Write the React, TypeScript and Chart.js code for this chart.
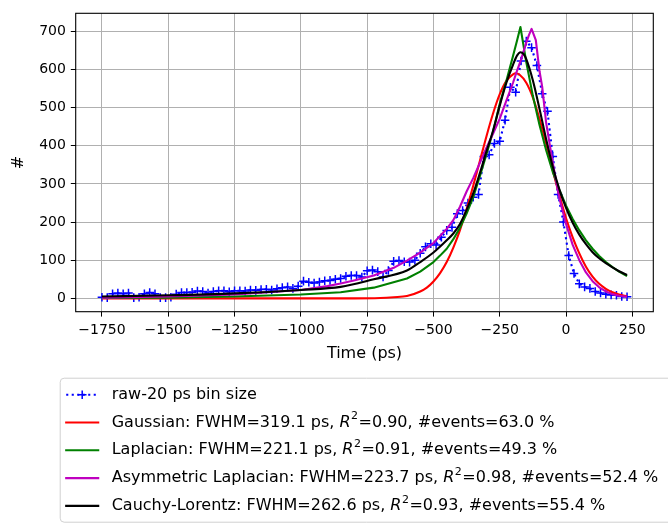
import { useEffect, useRef } from 'react';
import { Chart, registerables } from 'chart.js';

Chart.register(...registerables);

const FONT = "'DejaVu Sans', 'Noto Sans', sans-serif";
Chart.defaults.font.family = FONT;

const X_TICKS = [-1750, -1500, -1250, -1000, -750, -500, -250, 0, 250];
const Y_TICKS = [0, 100, 200, 300, 400, 500, 600, 700];

const RAW_TIME = [
  -1750, -1730, -1710, -1690, -1670, -1650, -1630, -1610, -1590, -1570,
  -1550, -1530, -1510, -1490, -1470, -1450, -1430, -1410, -1390, -1370,
  -1350, -1330, -1310, -1290, -1270, -1250, -1230, -1210, -1190, -1170,
  -1150, -1130, -1110, -1090, -1070, -1050, -1030, -1010, -990, -970,
  -950, -930, -910, -890, -870, -850, -830, -810, -790, -770,
  -750, -730, -710, -690, -670, -650, -630, -610, -590, -570,
  -550, -530, -510, -490, -470, -450, -430, -410, -390, -370,
  -350, -330, -310, -290, -270, -250, -230, -210, -190, -170,
  -150, -130, -110, -90, -70, -50, -30, -10, 10, 30,
  50, 70, 90, 110, 130, 150, 170, 190, 210, 230,
];
const RAW_COUNTS = [
  3, 2, 12, 14, 12, 14, 2, 3, 12, 15,
  12, 2, 2, 3, 11, 15, 15, 16, 19, 18,
  14, 18, 20, 20, 17, 20, 20, 19, 22, 21,
  23, 24, 22, 25, 28, 30, 26, 32, 45, 42,
  40, 43, 46, 47, 50, 52, 58, 60, 60, 56,
  72, 74, 70, 56, 73, 97, 99, 96, 95, 100,
  118, 135, 143, 140, 160, 178, 186, 222, 230, 250,
  265, 272, 372, 376, 406, 412, 467, 553, 540, 622,
  674, 657, 610, 536, 490, 372, 272, 200, 112, 65,
  38, 30, 26, 18, 14, 11, 9, 8, 5, 4,
];

const GAUSS_T = [-1750, -1000, -800, -700, -650, -600, -550, -525, -500, -475, -450, -425, -400, -375, -350, -325, -300, -275, -250, -225, -200, -190, -175, -150, -125, -100, -75, -50, -25, 0, 25, 50, 75, 100, 125, 150, 175, 200, 230];
const GAUSS_Y = [0, 0, 0, 1, 3, 6, 18, 28, 44, 66, 95, 133, 179, 234, 295, 360, 425, 485, 535, 570, 587, 590, 586, 565, 526, 470, 405, 335, 270, 210, 160, 118, 83, 57, 38, 25, 16, 10, 5];

const LAPLACE_T = [-1750, -1500, -1250, -1000, -850, -725, -600, -550, -500, -475, -450, -425, -400, -375, -350, -325, -300, -275, -250, -225, -200, -185, -172, -150, -125, -100, -75, -50, -25, 0, 25, 50, 75, 100, 125, 150, 175, 200, 230];
const LAPLACE_Y = [1, 2, 5, 10, 16, 28, 52, 70, 95, 112, 130, 155, 185, 222, 265, 320, 378, 438, 510, 570, 635, 675, 711, 619, 530, 454, 388, 331, 284, 243, 208, 178, 152, 130, 111, 95, 82, 70, 58];

const ASYM_T = [-1750, -1500, -1250, -1000, -900, -850, -800, -725, -650, -600, -550, -500, -450, -425, -400, -375, -350, -325, -300, -275, -250, -225, -200, -187, -170, -150, -140, -130, -114, -100, -90, -75, -50, -25, 0, 25, 50, 75, 100, 125, 150, 175, 200, 230];
const ASYM_Y = [2, 5, 10, 22, 32, 39, 47, 60, 80, 99, 120, 145, 182, 205, 240, 280, 315, 355, 395, 432, 471, 518, 565, 592, 625, 670, 690, 706, 677, 595, 555, 460, 355, 262, 195, 140, 100, 68, 45, 29, 18, 11, 7, 4];

const CAUCHY_T = [-1750, -1500, -1250, -1000, -850, -725, -600, -550, -500, -450, -425, -400, -375, -350, -325, -300, -275, -250, -225, -200, -185, -172, -160, -150, -125, -100, -75, -50, -25, 0, 25, 50, 75, 100, 125, 150, 175, 200, 230];
const CAUCHY_Y = [5, 8, 13, 22, 30, 50, 73, 95, 120, 152, 170, 195, 232, 275, 328, 385, 440, 505, 565, 612, 636, 645, 640, 627, 571, 496, 417, 345, 285, 237, 198, 167, 142, 121, 105, 92, 81, 71, 61];

const LABELS = [
  'raw-20 ps bin size',
  'Gaussian: FWHM=319.1 ps, R²=0.90, #events=63.0 %',
  'Laplacian: FWHM=221.1 ps, R²=0.91, #events=49.3 %',
  'Asymmetric Laplacian: FWHM=223.7 ps, R²=0.98, #events=52.4 %',
  'Cauchy-Lorentz: FWHM=262.6 ps, R²=0.93, #events=55.4 %',
];

const toPts = (xs: number[], ys: number[]) => xs.map((x, i) => ({ x, y: ys[i] }));

function drawRichLabel(ctx: CanvasRenderingContext2D, text: string, x: number, y: number) {
  const normal = `16px ${FONT}`;
  ctx.fillStyle = '#000';
  ctx.textBaseline = 'middle';
  ctx.textAlign = 'left';
  const idx = text.indexOf('R²');
  if (idx < 0) {
    ctx.font = normal;
    ctx.fillText(text, x, y);
    return;
  }
  const before = text.slice(0, idx);
  const after = text.slice(idx + 2);
  ctx.font = normal;
  ctx.fillText(before, x, y);
  x += ctx.measureText(before).width;
  ctx.font = `italic 16px ${FONT}`;
  ctx.fillText('R', x, y);
  x += ctx.measureText('R').width;
  ctx.font = `11px ${FONT}`;
  ctx.fillText('2', x + 0.5, y - 6);
  x += ctx.measureText('2').width + 1;
  ctx.font = normal;
  ctx.fillText(after, x, y);
}

const framePlugin = {
  id: 'frame',
  afterDraw(chart: any) {
    const { ctx, chartArea: a } = chart;
    ctx.save();
    ctx.strokeStyle = '#000';
    ctx.lineWidth = 1.1;
    ctx.strokeRect(a.left, a.top, a.right - a.left, a.bottom - a.top);
    ctx.restore();
  },
};

const legendPlugin = {
  id: 'mplLegend',
  afterDraw(chart: any) {
    const { ctx, chartArea: a } = chart;
    const left = a.left - 15.5;
    const top = a.bottom + 66.5;
    ctx.save();
    ctx.beginPath();
    ctx.roundRect(left, top, 640, 144, 4);
    ctx.fillStyle = 'rgba(255,255,255,0.8)';
    ctx.fill();
    ctx.strokeStyle = '#d0d0d0';
    ctx.lineWidth = 1;
    ctx.stroke();
    chart.data.datasets.forEach((ds: any, i: number) => {
      const cy = top + 16.5 + i * 27.8;
      const hx0 = left + 6;
      const hx1 = left + 38;
      ctx.save();
      ctx.strokeStyle = ds.borderColor;
      ctx.lineWidth = ds.borderWidth;
      ctx.setLineDash(ds.borderDash || []);
      ctx.lineCap = ds.borderDash ? 'butt' : 'square';
      ctx.beginPath();
      ctx.moveTo(hx0, cy);
      ctx.lineTo(hx1, cy);
      ctx.stroke();
      ctx.setLineDash([]);
      if (ds.pointStyle === 'cross') {
        const cx = (hx0 + hx1) / 2;
        const r = ds.pointRadius;
        ctx.lineWidth = ds.pointBorderWidth;
        ctx.lineCap = 'butt';
        ctx.beginPath();
        ctx.moveTo(cx - r, cy);
        ctx.lineTo(cx + r, cy);
        ctx.moveTo(cx, cy - r);
        ctx.lineTo(cx, cy + r);
        ctx.stroke();
      }
      ctx.restore();
      drawRichLabel(ctx, ds.label, left + 51.5, cy);
    });
    ctx.restore();
  },
};

const minusFmt = (v: any) => String(v).replace('-', '\u2212');

export default function App() {
  const ref = useRef<HTMLCanvasElement>(null);
  useEffect(() => {
    if (!ref.current) return;
    const lineCommon = {
      pointRadius: 0,
      borderWidth: 2.1,
      borderJoinStyle: 'round' as const,
      fill: false,
    };
    const chart = new Chart(ref.current, {
      type: 'line',
      data: {
        datasets: [
          {
            label: LABELS[0],
            data: toPts(RAW_TIME, RAW_COUNTS),
            borderColor: '#0000ff',
            backgroundColor: '#0000ff',
            borderWidth: 2.1,
            borderDash: [2.1, 3.4],
            pointStyle: 'cross',
            pointRadius: 4.3,
            pointBorderWidth: 1.5,
            pointBorderColor: '#0000ff',
            fill: false,
            order: 5,
          } as any,
          { label: LABELS[1], data: toPts(GAUSS_T, GAUSS_Y), borderColor: '#ff0000', cubicInterpolationMode: 'monotone', order: 4, ...lineCommon },
          { label: LABELS[2], data: toPts(LAPLACE_T, LAPLACE_Y), borderColor: '#008000', order: 3, ...lineCommon },
          { label: LABELS[3], data: toPts(ASYM_T, ASYM_Y), borderColor: '#bf00bf', order: 2, ...lineCommon },
          { label: LABELS[4], data: toPts(CAUCHY_T, CAUCHY_Y), borderColor: '#000000', cubicInterpolationMode: 'monotone', order: 1, ...lineCommon },
        ],
      },
      options: {
        responsive: false,
        animation: false,
        devicePixelRatio: 1,
        layout: { padding: { left: 5.4, right: 14.7, top: 10, bottom: 157.4 } },
        plugins: { legend: { display: false }, tooltip: { enabled: false } },
        elements: { line: { tension: 0 } },
        scales: {
          x: {
            type: 'linear',
            min: -1849,
            max: 329,
            afterBuildTicks: (s: any) => { s.ticks = X_TICKS.map((v) => ({ value: v })); },
            afterFit: (s: any) => { s.height = 55.9; },
            grid: { color: '#b0b0b0', lineWidth: 1, tickColor: '#000', tickLength: 4.9, drawTicks: true },
            border: { display: false },
            ticks: { color: '#000', font: { size: 14, family: FONT }, padding: 4.9, maxRotation: 0, autoSkip: false, callback: minusFmt },
            title: { display: true, text: 'Time (ps)', color: '#000', font: { size: 16, family: FONT }, padding: 4 },
          },
          y: {
            type: 'linear',
            min: -35,
            max: 747,
            afterBuildTicks: (s: any) => { s.ticks = Y_TICKS.map((v) => ({ value: v })); },
            afterFit: (s: any) => { s.width = 70.3; },
            grid: { color: '#b0b0b0', lineWidth: 1, tickColor: '#000', tickLength: 4.9, drawTicks: true },
            border: { display: false },
            ticks: { color: '#000', font: { size: 14, family: FONT }, padding: 4.9, autoSkip: false, callback: minusFmt },
            title: { display: true, text: '#', color: '#000', font: { size: 16, family: FONT }, padding: 4 },
          },
        },
      },
      plugins: [framePlugin, legendPlugin],
    } as any);
    return () => chart.destroy();
  }, []);
  return (
    <div style={{ position: 'fixed', left: 0, top: 0, width: 668, height: 525, background: '#fff' }}>
      <canvas ref={ref} width={668} height={525} style={{ display: 'block', width: 668, height: 525 }} />
    </div>
  );
}
